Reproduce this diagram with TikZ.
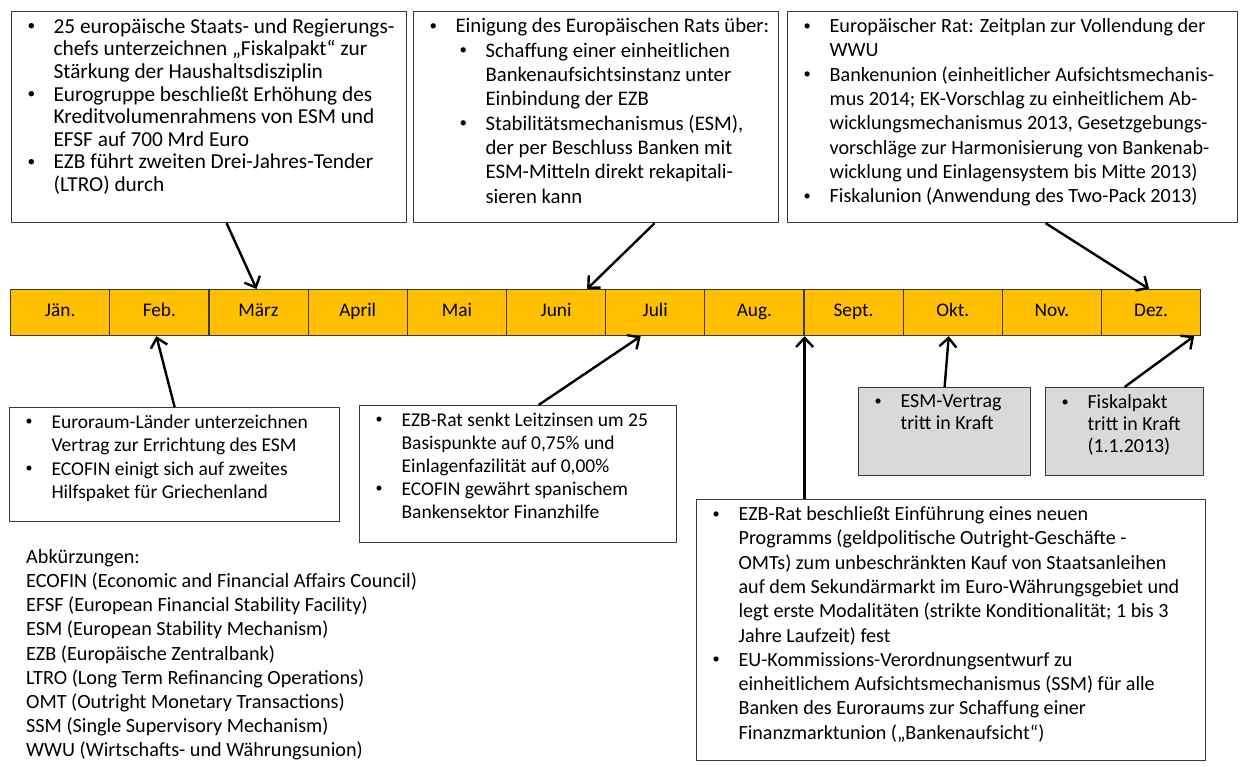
\documentclass[tikz,border=0pt]{standalone}
\usepackage{fontspec}
\setmainfont{Carlito}
\usetikzlibrary{arrows.meta}
\definecolor{monthgold}{HTML}{FFC000}
\definecolor{boxgray}{HTML}{D9D9D9}
\definecolor{edge}{HTML}{3A3A3A}
\newcommand{\bdot}{\raisebox{0.12em}{\scalebox{0.72}{\textbullet}}}
\newcommand{\bl}[1]{\mbox{\makebox[26pt][l]{\bdot}#1}\par}
\newcommand{\ct}[1]{\mbox{\hspace*{26pt}#1}\par}
\newcommand{\sbl}[1]{\mbox{\hspace*{30pt}\makebox[26pt][l]{\bdot}#1}\par}
\newcommand{\sct}[1]{\mbox{\hspace*{56pt}#1}\par}
\newcommand{\boxtext}[3]{\parbox[t][#1][t]{#2}{\leftskip=16pt\rightskip=0pt plus 1fil #3}}

\begin{document}
\begin{tikzpicture}[x=1pt,y=-1pt,
    f/.style={-{Straight Barb[length=9pt,width=17pt]},line width=2.4pt},%
    m/.style={draw=edge,fill=monthgold,line width=1.2pt,anchor=north west,minimum width=99.2pt,minimum height=46pt,inner sep=0pt,text height=1em,text depth=0.2em,font=\fontsize{19.3}{22}\selectfont},%
    ev/.style={draw=edge,fill=white,line width=1.2pt,anchor=north west,inner xsep=0pt,inner ysep=7pt},%
    gr/.style={ev,fill=boxgray}]
    \useasboundingbox (0,0) rectangle (1242,767);
    % Monate
    \foreach \mon [count=\i from 0] in {Jän.,Feb.,März,April,Mai,Juni,Juli,Aug.,Sept.,Okt.,Nov.,Dez.}
        \node[m] (m\i) at (10+99.17*\i,289) {\mon};

    % oben
    \node[ev,font=\fontsize{21.3}{22.6}\selectfont] (fisk) at (11,11) {\boxtext{197pt}{395pt}{%
        \bl{25 europäische Staats- und Regierungs-}
        \ct{chefs unterzeichnen „Fiskalpakt“ zur}
        \ct{Stärkung der Haushaltsdisziplin}
        \bl{Eurogruppe beschließt Erhöhung des}
        \ct{Kreditvolumenrahmens von ESM und}
        \ct{EFSF auf 700 Mrd Euro}
        \bl{EZB führt zweiten Drei-Jahres-Tender}
        \ct{(LTRO) durch}}};
    \node[ev,font=\fontsize{20.7}{24.3}\selectfont] (rat) at (413,11) {\boxtext{197pt}{365pt}{%
        \bl{Einigung des Europäischen Rats über:}
        \sbl{Schaffung einer einheitlichen}
        \sct{Bankenaufsichtsinstanz unter}
        \sct{Einbindung der EZB}
        \sbl{Stabilitätsmechanismus (ESM),}
        \sct{der per Beschluss Banken mit}
        \sct{ESM-Mitteln direkt rekapitali-}
        \sct{sieren kann}}};
    \node[ev,font=\fontsize{20.2}{24.3}\selectfont] (wwu) at (787,11) {\boxtext{197pt}{450pt}{%
        \bl{Europäischer Rat: Zeitplan zur Vollendung der}
        \ct{WWU}
        \bl{Bankenunion (einheitlicher Aufsichtsmechanis-}
        \ct{mus 2014; EK-Vorschlag zu einheitlichem Ab-}
        \ct{wicklungsmechanismus 2013, Gesetzgebungs-}
        \ct{vorschläge zur Harmonisierung von Bankenab-}
        \ct{wicklung und Einlagensystem bis Mitte 2013)}
        \bl{Fiskalunion (Anwendung des Two-Pack 2013)}}};

    % unten
    \node[ev,font=\fontsize{19.5}{23.5}\selectfont] (esm) at (9,407) {\boxtext{100pt}{330pt}{%
        \bl{Euroraum-Länder unterzeichnen}
        \ct{Vertrag zur Errichtung des ESM}
        \bl{ECOFIN einigt sich auf zweites}
        \ct{Hilfspaket für Griechenland}}};
    \node[ev,font=\fontsize{19.5}{23}\selectfont] (zins) at (359,405) {\boxtext{123pt}{317pt}{%
        \bl{EZB-Rat senkt Leitzinsen um 25}
        \ct{Basispunkte auf 0,75\% und}
        \ct{Einlagenfazilität auf 0,00\%}
        \bl{ECOFIN gewährt spanischem}
        \ct{Bankensektor Finanzhilfe}}};
    \node[ev,font=\fontsize{20.1}{24.3}\selectfont] (omt) at (696,499) {\boxtext{247pt}{509pt}{%
        \bl{EZB-Rat beschließt Einführung eines neuen}
        \ct{Programms (geldpolitische Outright-Geschäfte -}
        \ct{OMTs) zum unbeschränkten Kauf von Staatsanleihen}
        \ct{auf dem Sekundärmarkt im Euro-Währungsgebiet und}
        \ct{legt erste Modalitäten (strikte Konditionalität; 1 bis 3}
        \ct{Jahre Laufzeit) fest}
        \bl{EU-Kommissions-Verordnungsentwurf zu}
        \ct{einheitlichem Aufsichtsmechanismus (SSM) für alle}
        \ct{Banken des Euroraums zur Schaffung einer}
        \ct{Finanzmarktunion („Bankenaufsicht“)}}};
    \node[gr,font=\fontsize{19.9}{22}\selectfont] (vertrag) at (858,387) {\boxtext{74pt}{172pt}{%
        \bl{ESM-Vertrag}
        \ct{tritt in Kraft}}};
    \node[gr,font=\fontsize{19.9}{22}\selectfont] (pakt) at (1045,387) {\boxtext{74pt}{158pt}{%
        \bl{Fiskalpakt}
        \ct{tritt in Kraft}
        \ct{(1.1.2013)}}};

    \node[anchor=north west,inner sep=0pt,align=left,font=\fontsize{20.2}{24.2}\selectfont] (abk) at (26,549) {Abkürzungen:\\
        ECOFIN (Economic and Financial Affairs Council)\\
        EFSF (European Financial Stability Facility)\\
        ESM (European Stability Mechanism)\\
        EZB (Europäische Zentralbank)\\
        LTRO (Long Term Refinancing Operations)\\
        OMT (Outright Monetary Transactions)\\
        SSM (Single Supervisory Mechanism)\\
        WWU (Wirtschafts- und Währungsunion)};

    % Pfeile
    \draw[f] ([xshift=17.5pt]fisk.south) -- ([xshift=-2pt]m2.north);
    \draw[f] ([xshift=58.5pt]rat.south) -- ([xshift=31pt]m5.north);
    \draw[f] ([xshift=33pt]wwu.south) -- ([xshift=-2pt]m11.north);
    \draw[f] (esm.north) -- ([xshift=-3pt]m1.south);
    \draw[f] ([xshift=20.5pt]zins.north) -- ([xshift=-14.5pt]m6.south);
    \draw[f] (omt.north -| m7.south east) -- (m7.south east);
    \draw[f] (vertrag.north) -- ([xshift=-4pt]m9.south);
    \draw[f] (pakt.north) -- ([xshift=43pt]m11.south);
\end{tikzpicture}
\end{document}
